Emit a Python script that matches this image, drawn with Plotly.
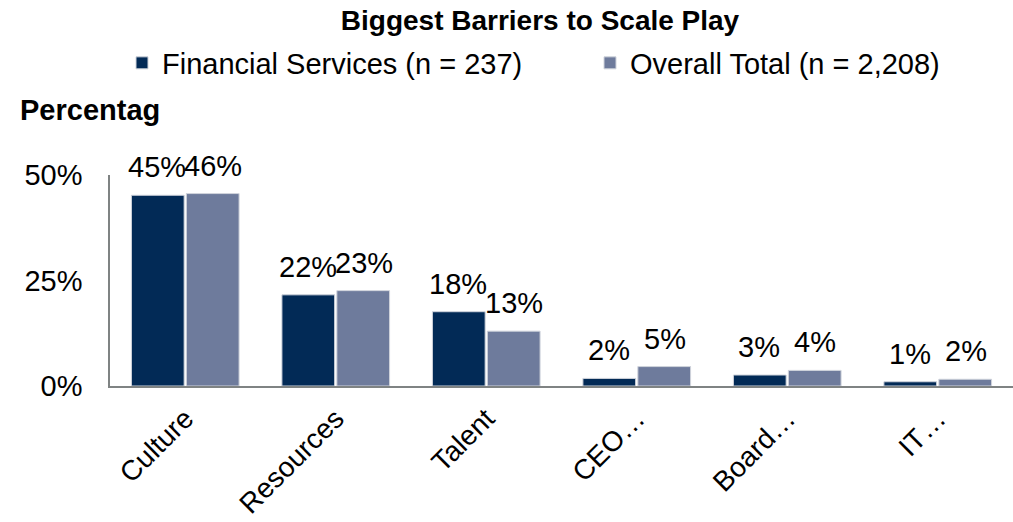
import plotly.graph_objects as go

categories = ["Culture", "Resources", "Talent", "CEO…", "Board…", "IT…"]
fin_services = [45.2, 21.6, 17.6, 1.8, 2.6, 1.0]
overall_total = [45.6, 22.6, 13.0, 4.6, 3.7, 1.6]
series_names = ["Financial Services (n = 237)", "Overall Total (n = 2,208)"]
y_ticks = [0, 25, 50]
y_tick_labels = ["0%", "25%", "50%"]

FONT = "Liberation Sans, Arial, Helvetica, sans-serif"
FS = 29
C_FS = "#022A56"
C_OT = "#6E7B9C"

W, H = 1013, 522
ML, MR, MT, MB = 110, 0, 175, 136
PW, PH = W - ML - MR, H - MT - MB

fig = go.Figure()
fig.add_trace(go.Bar(x=categories, y=fin_services, name=series_names[0], legend="legend",
                     marker=dict(color=C_FS, line=dict(color="#D0D4DC", width=1))))
fig.add_trace(go.Bar(x=categories, y=overall_total, name=series_names[1], legend="legend2",
                     marker=dict(color=C_OT, line=dict(color="#D0D4DC", width=1))))

annotations = []
for vals, shift in ((fin_services, -28), (overall_total, 28)):
    for c, v in zip(categories, vals):
        annotations.append(dict(x=c, y=v, xref="x", yref="y", text=f"{round(v)}%",
                                showarrow=False, xshift=shift, yshift=10,
                                yanchor="bottom", xanchor="center",
                                font=dict(family=FONT, size=FS, color="#000000")))
annotations.append(dict(x=(18 - ML) / PW, y=(H - MB - 110) / PH, xref="paper", yref="paper",
                        text="<b>Percentag</b>", showarrow=False, xanchor="left", yanchor="middle",
                        font=dict(family=FONT, size=FS, color="#000000")))

legend_common = dict(orientation="h", xref="container", yref="container",
                     xanchor="left", y=1 - 63 / H, yanchor="middle",
                     font=dict(family=FONT, size=FS, color="#000000"),
                     bgcolor="rgba(0,0,0,0)")

fig.update_layout(
    width=W, height=H,
    margin=dict(l=ML, r=MR, t=MT, b=MB, autoexpand=False),
    paper_bgcolor="white", plot_bgcolor="white",
    font=dict(family=FONT, size=FS, color="#000000"),
    title=dict(text="<b>Biggest Barriers to Scale Play</b>", x=540 / W, xanchor="center",
               y=1 - 20 / H, yanchor="middle", font=dict(family=FONT, size=28, color="#000000")),
    barmode="group", bargap=0.27, bargroupgap=0.04,
    showlegend=True,
    legend=dict(x=122 / W, **legend_common),
    legend2=dict(x=590 / W, **legend_common),
    annotations=annotations,
)
fig.update_xaxes(showline=True, linecolor="#7F8383", linewidth=2, ticks="",
                 tickangle=-45, showgrid=False, tickfont=dict(family=FONT, size=28),
                 ticklabelstandoff=3, automargin=False)
fig.update_yaxes(range=[0, 50], tickvals=y_ticks, ticktext=y_tick_labels,
                 showline=True, linecolor="#7F8383", linewidth=1.5, ticks="",
                 showgrid=False, zeroline=False, tickfont=dict(family=FONT, size=FS),
                 ticklabelstandoff=20, automargin=False)

fig.write_html("out.html")
